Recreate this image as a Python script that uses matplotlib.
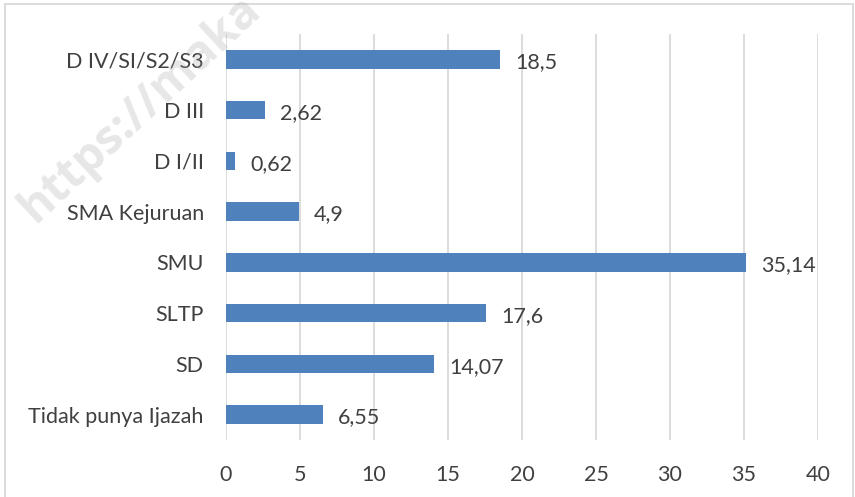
import matplotlib
matplotlib.use("Agg")
import matplotlib.pyplot as plt
from matplotlib.patches import Rectangle

# data (bottom to top)
categories = ["Tidak punya Ijazah", "SD", "SLTP", "SMU", "SMA Kejuruan",
              "D I/II", "D III", "D IV/SI/S2/S3"]
values = [6.55, 14.07, 17.6, 35.14, 4.9, 0.62, 2.62, 18.5]
value_labels = ["6,55", "14,07", "17,6", "35,14", "4,9", "0,62", "2,62", "18,5"]
xticks = [0, 5, 10, 15, 20, 25, 30, 35, 40]

BAR = "#4F81BD"
TXT = "#404040"
GRID = "#D9D9D9"

plt.rcParams["font.family"] = ["Lato", "DejaVu Sans"]

W, H = 855, 497
fig = plt.figure(figsize=(W / 100, H / 100), dpi=100)
ax = fig.add_axes([226 / W, 1 - 440 / H, (818 - 226) / W, (440 - 34) / H])
ax.patch.set_alpha(0)

ypos = list(range(len(categories)))
ax.barh(ypos, values, height=0.36, color=BAR, zorder=3)
for y, v, lab in zip(ypos, values, value_labels):
    ax.annotate(lab, (v, y), xytext=(11, -2), textcoords="offset points",
                va="center", ha="left", fontsize=15.5, color=TXT)

ax.set_xlim(0, 40)
ax.set_ylim(-0.5, len(categories) - 0.5)
ax.set_xticks(xticks)
ax.set_xticklabels([str(t) for t in xticks])
ax.set_yticks(ypos)
ax.set_yticklabels(categories)
ax.tick_params(axis="both", length=0, labelsize=15.5, colors=TXT)
ax.tick_params(axis="y", pad=16)
ax.tick_params(axis="x", pad=18)
ax.grid(axis="x", color=GRID, linewidth=1.3, zorder=0)
ax.set_axisbelow(True)
for s in ax.spines.values():
    s.set_visible(False)

# outer chart border
fig.patches.append(Rectangle((5 / W, -0.1), (853 - 5) / W, 1.1 - 4 / H,
                             transform=fig.transFigure, fill=False,
                             edgecolor="#D9D9D9", linewidth=1.3))

# watermark, faint and on top like the source
fig.text(42 / W, 1 - 232 / H, "https://maka", rotation=43, fontsize=34,
         fontweight="bold", family="Open Sans", color="#A0A0A0", alpha=0.25,
         ha="left", va="bottom", rotation_mode="anchor", zorder=5)

fig.savefig("out.png", dpi=100)
